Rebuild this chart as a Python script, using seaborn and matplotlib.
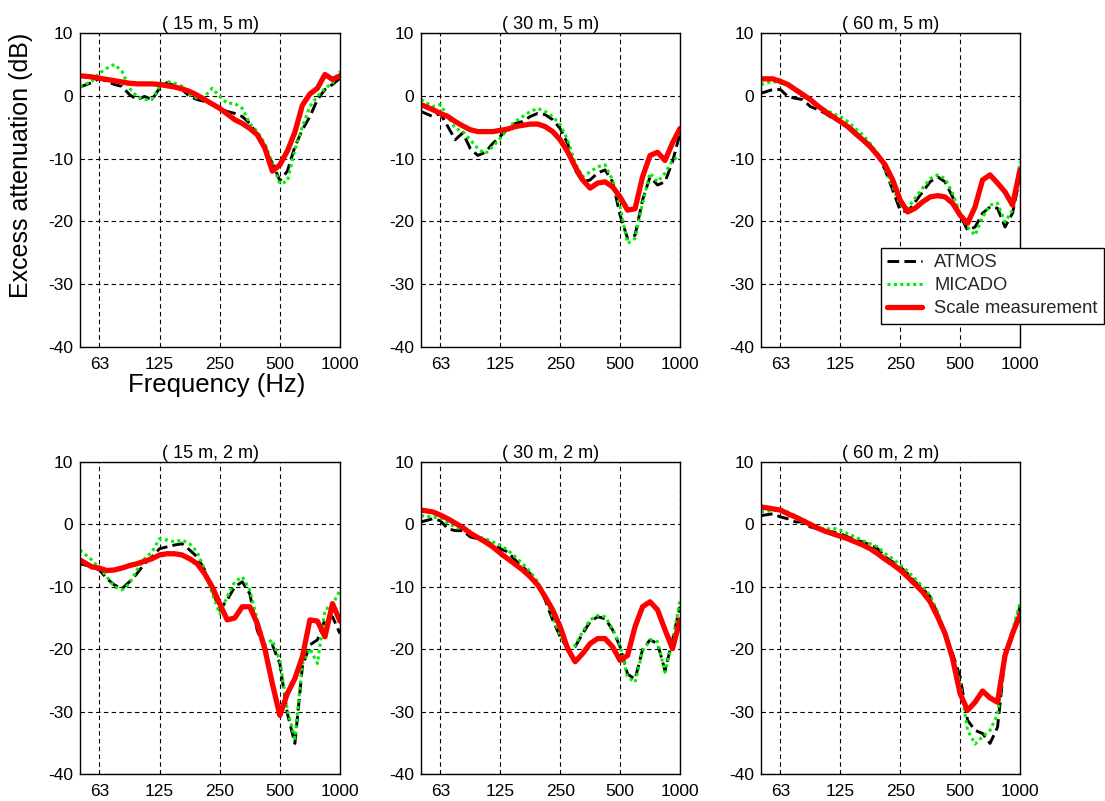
import matplotlib
matplotlib.use("Agg")
import matplotlib.pyplot as plt
import seaborn as sns
import pandas as pd

# ---------------- data ----------------
freq = [50, 57.3, 62.5, 68.2, 74.3, 81.1, 88.4, 96.4, 105.1, 114.6, 125, 136.3, 148.7,
        162.1, 176.8, 192.8, 210.2, 229.3, 250, 272.6, 297.3, 324.2, 353.6, 385.5, 420.4,
        458.5, 500, 545.3, 594.6, 648.4, 707.1, 771.1, 840.9, 917.0, 1000]

titles = ["( 15 m, 5 m)", "( 30 m, 5 m)", "( 60 m, 5 m)",
          "( 15 m, 2 m)", "( 30 m, 2 m)", "( 60 m, 2 m)"]

series_names = ["ATMOS", "MICADO", "Scale measurement"]

p1_atmos = [1.4, 2.1, 2.8, 2.3, 1.8, 1.5, 0.2, -0.6, -0.1, -0.6, 1.2, 2.1, 1.6, 1.0, -0.1, -0.6,
            -0.9, -1.4, -2.0, -2.5, -2.8, -3.3, -4.4, -6.2, -8.6, -10.7, -13.5, -12.0, -8.1, -5.4,
            -3.3, -0.6, 1.0, 1.8, 2.8]
p1_micado = [1.4, 2.3, 3.6, 4.4, 5.0, 3.9, 1.2, -0.1, -0.6, -0.6, 1.5, 2.3, 2.0, 1.5, 0.2, -0.4,
             -0.1, 1.2, -0.1, -1.2, -1.2, -2.0, -4.4, -5.7, -7.6, -10.7, -14.0, -13.6, -8.6, -4.9,
             -1.7, -0.1, 1.2, 2.0, 3.9]
p1_scale = [3.2, 3.0, 2.8, 2.6, 2.4, 2.2, 2.0, 1.9, 1.9, 1.9, 1.8, 1.6, 1.4, 1.1, 0.7, 0.1,
            -0.6, -1.3, -2.0, -2.9, -3.8, -4.4, -5.2, -6.2, -8.3, -12.0, -11.0, -8.8, -5.8, -1.5,
            0.3, 1.2, 3.4, 2.6, 3.2]

p2_atmos = [-2.5, -3.3, -2.8, -4.9, -7.0, -5.9, -8.4, -9.5, -9.0, -7.6, -6.5, -5.2, -4.4, -4.1,
            -3.3, -2.8, -3.0, -3.8, -5.2, -7.6, -11.8, -13.7, -13.4, -12.3, -11.8, -13.7, -19.0,
            -22.7, -22.2, -16.6, -12.9, -14.2, -13.7, -10.5, -6.0]
p2_micado = [-0.6, -1.7, -1.4, -3.3, -5.2, -5.7, -7.0, -8.4, -9.2, -8.1, -6.8, -5.2, -4.1, -3.3,
             -2.5, -2.0, -2.5, -3.3, -4.6, -7.0, -10.7, -12.9, -12.1, -11.3, -11.0, -13.4, -17.7,
             -23.5, -22.7, -17.1, -12.3, -13.7, -12.3, -10.3, -9.5]
p2_scale = [-1.4, -2.2, -2.8, -3.3, -4.1, -4.8, -5.4, -5.7, -5.7, -5.7, -5.5, -5.3, -4.9, -4.7,
            -4.5, -4.5, -4.9, -5.7, -7.0, -8.9, -11.3, -13.4, -14.7, -13.9, -13.7, -14.5, -16.1,
            -18.2, -18.0, -12.9, -9.5, -9.0, -10.3, -7.5, -5.2]

p3_atmos = [0.4, 1.0, 1.0, -0.1, -0.4, -0.6, -1.7, -2.2, -2.8, -3.6, -4.1, -4.6, -5.7, -6.8,
            -7.8, -9.5, -11.8, -15.0, -18.2, -18.5, -16.9, -15.3, -13.7, -12.9, -13.7, -16.1,
            -19.0, -21.4, -20.9, -18.7, -17.7, -17.9, -20.9, -18.7, -12.9]
p3_micado = [1.8, 2.3, 2.0, 1.8, 1.2, 0.4, -0.9, -1.6, -2.2, -2.8, -3.3, -4.1, -5.2, -6.2,
             -7.6, -9.2, -11.6, -14.5, -17.4, -17.9, -16.3, -14.7, -13.2, -12.6, -13.2, -15.5,
             -18.7, -20.9, -22.2, -19.3, -17.4, -17.1, -20.1, -18.2, -10.5]
p3_scale = [2.7, 2.7, 2.3, 1.8, 1.0, 0.2, -0.6, -1.6, -2.5, -3.3, -4.1, -4.9, -6.0, -7.0,
            -8.1, -9.5, -11.0, -13.4, -16.6, -18.5, -17.9, -16.9, -16.1, -15.9, -16.1, -17.1,
            -19.0, -20.3, -17.7, -13.4, -12.6, -13.9, -15.3, -17.4, -11.8]

p4_atmos = [-6.3, -6.8, -7.3, -8.7, -9.7, -10.3, -9.2, -7.9, -6.3, -5.2, -3.9, -3.6, -3.3, -3.1,
            -4.1, -5.2, -7.3, -10.5, -13.7, -12.1, -10.0, -9.2, -11.1, -17.0, -19.9, -19.3, -22.3,
            -30.3, -35.1, -22.8, -19.3, -18.5, -15.3, -14.8, -17.5]
p4_micado = [-4.1, -5.7, -7.0, -8.4, -10.0, -10.5, -9.5, -7.3, -5.5, -4.4, -2.3, -2.5, -2.8, -2.5,
             -3.1, -4.4, -7.3, -11.1, -14.3, -11.6, -9.2, -8.4, -10.5, -15.3, -19.3, -18.5, -21.8,
             -29.8, -34.3, -22.3, -19.9, -22.3, -13.7, -12.9, -10.5]
p4_scale = [-5.7, -6.8, -7.0, -7.4, -7.3, -7.0, -6.6, -6.3, -5.9, -5.5, -4.9, -4.7, -4.7, -4.9,
            -5.5, -6.3, -7.9, -10.0, -12.7, -15.3, -15.0, -13.2, -13.2, -15.9, -19.9, -25.5, -30.6,
            -27.1, -24.7, -21.2, -15.3, -15.5, -18.0, -12.7, -15.5]

p5_atmos = [0.4, 0.9, 0.6, -0.7, -1.0, -1.0, -2.0, -2.3, -2.5, -3.3, -3.9, -4.4, -5.7, -6.8,
            -7.9, -9.5, -12.1, -15.3, -18.0, -19.9, -19.6, -17.5, -15.6, -14.8, -15.1, -16.9,
            -19.6, -24.0, -24.8, -20.1, -18.5, -19.1, -23.4, -18.5, -13.2]
p5_micado = [1.4, 1.2, 1.0, 0.2, -0.4, -0.8, -1.6, -2.0, -2.3, -2.8, -3.3, -4.1, -5.2, -6.3,
             -7.6, -9.2, -11.6, -14.8, -17.8, -19.9, -19.4, -17.2, -15.3, -14.6, -14.8, -16.7,
             -19.4, -24.5, -25.3, -20.3, -18.5, -18.8, -23.7, -18.8, -12.1]
p5_scale = [2.3, 2.0, 1.5, 0.9, 0.2, -0.5, -1.4, -2.1, -2.8, -3.6, -4.6, -5.5, -6.4, -7.3,
            -8.4, -9.7, -11.6, -13.7, -16.4, -19.9, -22.0, -20.7, -19.1, -18.3, -18.3, -19.6,
            -21.8, -21.0, -16.4, -13.2, -12.4, -13.7, -16.9, -19.9, -15.3]

p6_atmos = [1.4, 1.7, 1.2, 0.9, 0.4, 0.4, -0.4, -0.7, -1.1, -1.2, -1.5, -2.0, -2.5, -2.8,
            -3.3, -3.9, -5.2, -6.0, -6.8, -7.9, -9.2, -10.3, -11.6, -14.3, -17.5, -20.7, -24.4,
            -31.4, -33.0, -33.5, -35.1, -32.5, -21.2, -17.5, -13.2]
p6_micado = [2.0, 2.2, 2.4, 2.0, 1.4, 0.8, 0.2, -0.4, -0.8, -0.6, -0.9, -1.5, -2.0, -2.6,
             -3.1, -3.6, -4.7, -5.5, -6.5, -7.5, -8.7, -10.0, -11.4, -14.0, -17.3, -21.0, -25.5,
             -33.0, -35.2, -34.0, -33.0, -30.5, -21.5, -17.0, -12.5]
p6_scale = [2.8, 2.5, 2.3, 1.7, 1.2, 0.6, 0.0, -0.6, -1.1, -1.5, -1.9, -2.3, -2.8, -3.3,
            -3.9, -4.7, -5.6, -6.4, -7.3, -8.4, -9.6, -10.8, -12.4, -14.8, -17.5, -21.5, -27.1,
            -29.8, -28.5, -26.7, -27.8, -28.5, -21.0, -17.5, -14.5]

xtick_values = [62.5, 125, 250, 500, 1000]
xtick_labels = ["63", "125", "250", "500", "1000"]
ytick_values = [-40, -30, -20, -10, 0, 10]
ytick_labels = ["-40", "-30", "-20", "-10", "0", "10"]

panels = [
    (p1_atmos, p1_micado, p1_scale),
    (p2_atmos, p2_micado, p2_scale),
    (p3_atmos, p3_micado, p3_scale),
    (p4_atmos, p4_micado, p4_scale),
    (p5_atmos, p5_micado, p5_scale),
    (p6_atmos, p6_micado, p6_scale),
]

# ---------------- style ----------------
sns.set_theme(style="white")
plt.rcParams["font.family"] = ["Liberation Sans", "DejaVu Sans"]
plt.rcParams["axes.unicode_minus"] = False

styles = {
    "ATMOS": dict(color="black", linestyle=(0, (4.0, 1.8)), linewidth=2.1),
    "MICADO": dict(color="#00ee00", linestyle=(0, (1.0, 1.1)), linewidth=2.2),
    "Scale measurement": dict(color="#ff0000", linestyle="-", linewidth=3.8),
}

W, H = 1105, 801
fig = plt.figure(figsize=(W / 100, H / 100), dpi=100)
fig.patch.set_facecolor("white")

col_px = [(80, 260), (421, 259), (761, 259)]
row_px = [(33, 347), (462, 774)]

axes = []
for i, vals in enumerate(panels):
    r, c = divmod(i, 3)
    left, width = col_px[c]
    top, bottom = row_px[r]
    ax = fig.add_axes([left / W, 1 - bottom / H, width / W, (bottom - top) / H])
    for name, y in zip(series_names, vals):
        df = pd.DataFrame({"Frequency": freq, "Attenuation": y})
        sns.lineplot(data=df, x="Frequency", y="Attenuation", ax=ax, label=name,
                     legend=False, errorbar=None, sort=True, **styles[name])
    ax.set_xscale("log")
    ax.set_xlim(50, 1000)
    ax.set_ylim(-40, 10)
    ax.set_xticks(xtick_values)
    ax.set_xticklabels(xtick_labels)
    ax.xaxis.set_minor_locator(matplotlib.ticker.NullLocator())
    ax.set_yticks(ytick_values)
    ax.set_yticklabels(ytick_labels)
    ax.tick_params(axis="both", labelsize=12.5, length=3, width=0.8, direction="in",
                   colors="black", pad=5)
    ax.tick_params(axis="x", pad=7)
    ax.grid(True, color="black", linestyle=(0, (4, 3)), linewidth=0.8)
    for sp in ax.spines.values():
        sp.set_color("black")
        sp.set_linewidth(1.0)
    ax.set_facecolor("white")
    ax.set_title(titles[i], fontsize=13, pad=3, color="black")
    ax.set_xlabel("")
    ax.set_ylabel("")
    axes.append(ax)

axes[0].set_ylabel("Excess attenuation (dB)", fontsize=18, color="black")
axes[0].yaxis.set_label_coords((33 - 80) / 260, (347 - 165) / 314)
axes[0].set_xlabel("Frequency (Hz)", fontsize=18.5, color="black")
axes[0].xaxis.set_label_coords((217 - 80) / 260, -(373 - 347) / 314)

handles, labels = axes[2].get_legend_handles_labels()
leg = fig.legend(handles, labels, loc="upper right",
                 bbox_to_anchor=(1104 / W, 1 - 248 / H), fontsize=13.2,
                 frameon=True, fancybox=False, framealpha=1, edgecolor="black",
                 borderpad=0.35, labelspacing=0.32, handlelength=1.9, handletextpad=0.65,
                 borderaxespad=0)
leg.get_frame().set_linewidth(1.0)
leg.set_zorder(10)

fig.savefig("out.png", dpi=100, facecolor="white")
